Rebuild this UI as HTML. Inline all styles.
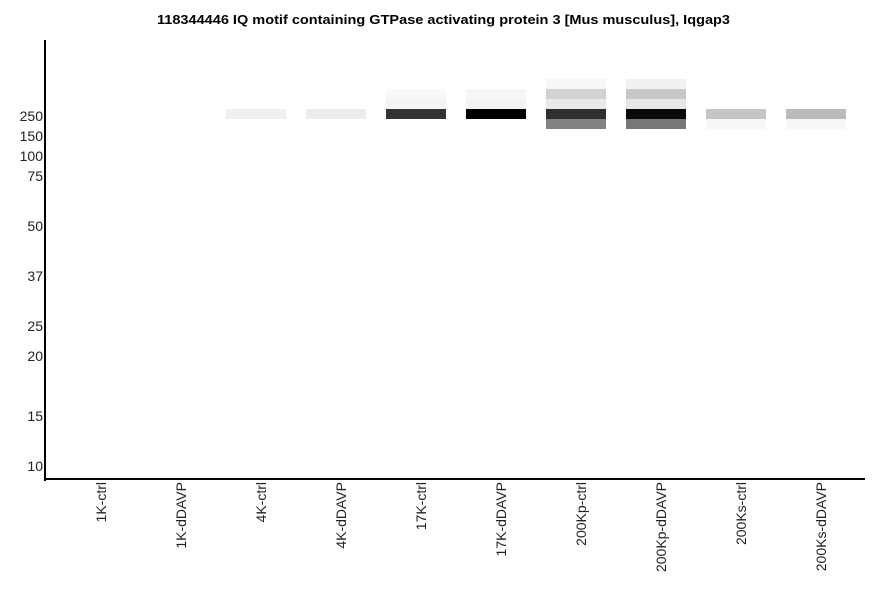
<!DOCTYPE html>
<html><head><meta charset="utf-8"><style>
body{margin:0;background:#fff;width:886px;height:595px;overflow:hidden;font-family:"Liberation Sans",sans-serif}
</style></head><body>
<svg width="886" height="595" xmlns="http://www.w3.org/2000/svg" font-family="Liberation Sans, sans-serif">
<text x="157" y="24" font-size="13" font-weight="bold" textLength="573" lengthAdjust="spacingAndGlyphs">118344446 IQ motif containing GTPase activating protein 3 [Mus musculus], Iqgap3</text>
<g shape-rendering="crispEdges">
<rect x="226" y="109" width="60" height="10" fill="#efefef"/>
<rect x="306" y="109" width="60" height="10" fill="#ececec"/>
<rect x="386" y="89" width="60" height="10" fill="#f8f8f8"/>
<rect x="386" y="99" width="60" height="10" fill="#f4f4f4"/>
<rect x="386" y="109" width="60" height="10" fill="#333"/>
<rect x="466" y="89" width="60" height="10" fill="#f6f6f6"/>
<rect x="466" y="99" width="60" height="10" fill="#f3f3f3"/>
<rect x="466" y="109" width="60" height="10" fill="#000"/>
<rect x="546" y="79" width="60" height="10" fill="#f5f6f5"/>
<rect x="546" y="89" width="60" height="10" fill="#d2d2d2"/>
<rect x="546" y="99" width="60" height="10" fill="#e8e9e8"/>
<rect x="546" y="109" width="60" height="10" fill="#2e302f"/>
<rect x="546" y="119" width="60" height="10" fill="#828282"/>
<rect x="626" y="79" width="60" height="10" fill="#f0f1f0"/>
<rect x="626" y="89" width="60" height="10" fill="#c8c8c8"/>
<rect x="626" y="99" width="60" height="10" fill="#e6e7e6"/>
<rect x="626" y="109" width="60" height="10" fill="#0a0a0a"/>
<rect x="626" y="119" width="60" height="10" fill="#777"/>
<rect x="706" y="109" width="60" height="10" fill="#c4c6c5"/>
<rect x="706" y="119" width="60" height="10" fill="#f6f7f6"/>
<rect x="786" y="109" width="60" height="10" fill="#bbb"/>
<rect x="786" y="119" width="60" height="10" fill="#f7f7f7"/>
<rect x="44" y="40" width="2" height="441" fill="#000"/>
<rect x="44" y="478" width="821" height="2" fill="#000"/>
</g>
<g font-size="14" text-anchor="end" fill="#222">
<text x="43" y="121">250</text><text x="43" y="141">150</text><text x="43" y="161">100</text><text x="43" y="181">75</text>
<text x="43" y="231">50</text><text x="43" y="281">37</text><text x="43" y="331">25</text><text x="43" y="361">20</text>
<text x="43" y="421">15</text><text x="43" y="471">10</text>
</g>
<g font-size="14" text-anchor="end" fill="#222">
<text transform="translate(106,482) rotate(-90)">1K-ctrl</text>
<text transform="translate(186,482) rotate(-90)">1K-dDAVP</text>
<text transform="translate(266,482) rotate(-90)">4K-ctrl</text>
<text transform="translate(346,482) rotate(-90)">4K-dDAVP</text>
<text transform="translate(426,482) rotate(-90)">17K-ctrl</text>
<text transform="translate(506,482) rotate(-90)">17K-dDAVP</text>
<text transform="translate(586,482) rotate(-90)">200Kp-ctrl</text>
<text transform="translate(666,482) rotate(-90)">200Kp-dDAVP</text>
<text transform="translate(746,482) rotate(-90)">200Ks-ctrl</text>
<text transform="translate(826,482) rotate(-90)">200Ks-dDAVP</text>
</g>
</svg>
</body></html>
